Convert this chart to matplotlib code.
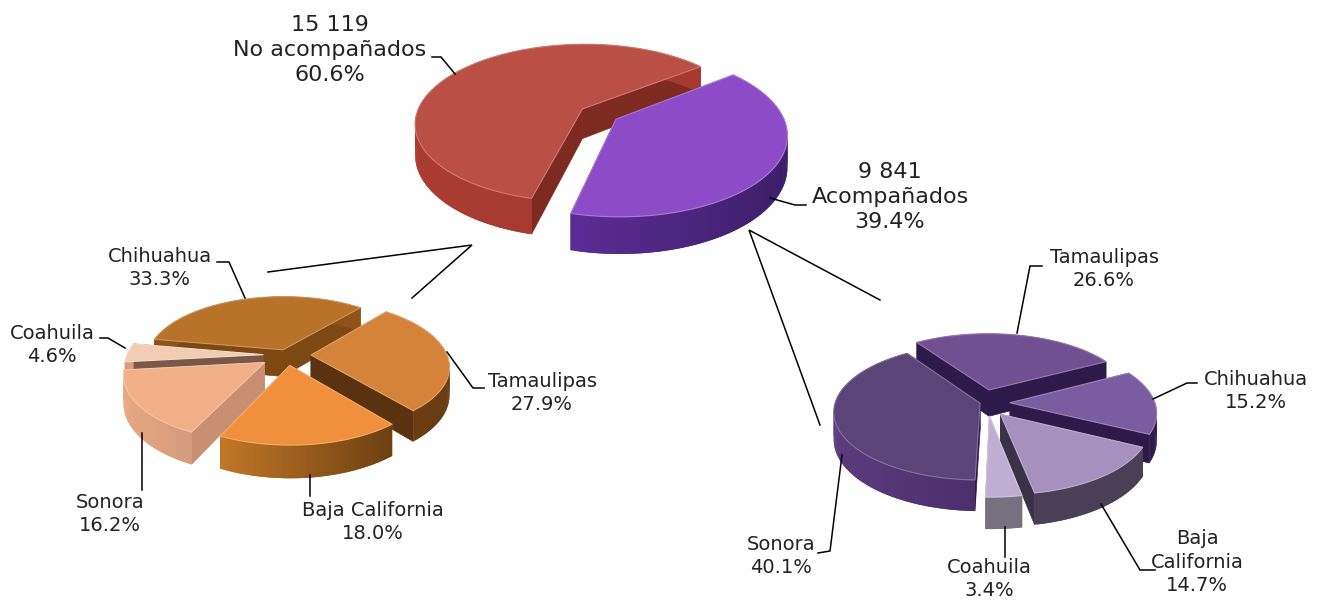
#!/usr/bin/env python3
import numpy as np
import matplotlib
matplotlib.use('Agg')
import matplotlib.pyplot as plt
from matplotlib.colors import to_rgb
from matplotlib.patches import Polygon

plt.rcParams['font.family'] = ['DejaVu Sans']

# ─── Data ───────────────────────────────────────────────────────────────
main_names = ["No acompañados", "Acompañados"]
main_counts = ["15 119", "9 841"]
main_pct = [60.6, 39.4]

left_names = ["Chihuahua", "Coahuila", "Sonora", "Baja California", "Tamaulipas"]
left_pct = [33.3, 4.6, 16.2, 18.0, 27.9]

right_names = ["Sonora", "Coahuila", "Baja\nCalifornia", "Chihuahua", "Tamaulipas"]
right_pct = [40.1, 3.4, 14.7, 15.2, 26.6]

# ─── Styles: top, radial wall, rim wall left, rim wall right ────────────
main_colors = [('#b94f45', '#7f2a20', '#a93b32', '#a63a30'),
               ('#8e4bc8', '#3f2070', '#5c2c96', '#3c1f68')]
left_colors = [('#b8722a', '#7c4814', '#8f5218', '#8f5218'),
               ('#f3cdb3', '#7a5848', '#d8a080', '#d8a080'),
               ('#f1b088', '#c98f72', '#e8a982', '#d39a80'),
               ('#f0903c', '#a86420', '#c27628', '#6b4010'),
               ('#d5823a', '#5a3210', '#6a3c12', '#6a3c12')]
right_colors = [('#5a4478', '#2e1a4a', '#5b3b7d', '#4b2f6c'),
                ('#bfb0d3', '#706a78', '#77717f', '#77717f'),
                ('#a590bf', '#3c3248', '#4a4055', '#4a4055'),
                ('#7a5ca0', '#2e1a4a', '#2e1a4a', '#2e1a4a'),
                ('#705091', '#2e1a4a', '#2e1a4a', '#2e1a4a')]

fig = plt.figure(figsize=(13.24, 6.0), dpi=100)
ax = fig.add_axes([0, 0, 1, 1])
ax.set_xlim(0, 1324)
ax.set_ylim(600, 0)
ax.axis('off')


def draw_pie(pct, colors, start, explode, cx, cy, R, tilt, persp, h, nudge=None):
    """Exploded 3D pie, ccw from start (deg), with simple perspective."""
    spans = np.array(pct) / sum(pct) * 360
    a0s = start + np.concatenate([[0], np.cumsum(spans)[:-1]])
    if nudge is None:
        nudge = [0] * len(pct)
    slices = []
    for a0, sp, d, c, n in zip(a0s, spans, explode, colors, nudge):
        mid = np.radians(a0 + sp / 2)
        ou, ov = d * np.cos(mid) + n, -d * np.sin(mid)
        slices.append((ov - R * 0.5 * np.sin(mid), a0, sp, ou, ov, c))

    def proj(u, v, down=0.0):
        k = 1 / (1 - persp * v / R)
        return cx + u * k, cy + tilt * v * k + down * k

    # de atras hacia adelante
    for _, a0, sp, ou, ov, c in sorted(slices, key=lambda s: s[0]):
        t = np.radians(np.linspace(a0, a0 + sp, max(int(sp), 6)))
        us = ou + R * np.cos(t)
        vs = ov - R * np.sin(t)
        top_x, top_y = proj(us, vs)
        bot_x, bot_y = proj(us, vs, h)
        ax_, ay_ = proj(ou, ov)
        bx_, by_ = proj(ou, ov, h)

        # paredes radiales
        for i in (0, -1):
            ax.add_patch(Polygon([(ax_, ay_), (top_x[i], top_y[i]), (bot_x[i], bot_y[i]), (bx_, by_)],
                                 fc=c[1], ec=c[1], lw=0.5))
        # pared exterior, con degradado; cada tramo pisa al anterior para evitar rayas
        xmin, xmax = top_x.min(), top_x.max()
        c1, c2 = np.array(to_rgb(c[2])), np.array(to_rgb(c[3]))
        for i in range(len(t) - 1):
            j = min(i + 2, len(t) - 1)
            f = (top_x[i] - xmin) / max(xmax - xmin, 1)
            col = c1 + (c2 - c1) * f
            ax.add_patch(Polygon([(top_x[i], top_y[i]), (top_x[j], top_y[j]),
                                  (bot_x[j], bot_y[j]), (bot_x[i], bot_y[i])],
                                 fc=col, ec='none'))
        # cara superior
        pts = np.column_stack([np.r_[ax_, top_x], np.r_[ay_, top_y]])
        edge = np.array(to_rgb(c[0])) * 0.75 + 0.25
        ax.add_patch(Polygon(pts, fc=c[0], ec=edge, lw=0.8, joinstyle='round'))


draw_pie(main_pct, main_colors, 38, [20, 20], 599, 114, 166, 0.47, 0.18, 30)
draw_pie(left_pct, left_colors, 50, [12, 24, 27, 22, 24], 287, 355, 136, 0.465, 0.16, 27)
draw_pie(right_pct, right_colors, 124, [2, 28, 30, 28, 30], 982, 403, 145, 0.46, 0.13, 27,
         nudge=[0, 5, 0, 0, 0])

# ─── Connectors and leader lines ────────────────────────────────────────
paths = [
    [(268, 272), (472, 245), (412, 298)],
    [(820, 425), (749, 230), (880, 300)],
    [(432, 57), (441, 57), (455, 74)],
    [(770, 198), (795, 205), (806, 205)],
    [(217, 262), (229, 262), (245, 298)],
    [(100, 338), (108, 338), (125, 348)],
    [(447, 352), (473, 388), (484, 388)],
    [(310, 475), (310, 496)],
    [(142, 433), (142, 490)],
    [(1017, 333), (1030, 266), (1042, 266)],
    [(1153, 399), (1187, 383), (1197, 383)],
    [(1101, 504), (1140, 570), (1155, 570)],
    [(1005, 527), (1005, 557)],
    [(842, 455), (830, 551), (818, 553)],
]
for p in paths:
    xs, ys = zip(*p)
    ax.plot(xs, ys, color='black', lw=1.1, solid_joinstyle='miter')

# ─── Labels ─────────────────────────────────────────────────────────────
ax.text(330, 50, f"{main_counts[0]}\n{main_names[0]}\n{main_pct[0]}%", ha='center', va='center',
        fontsize=16, linespacing=1.32, color='#222222')
ax.text(890, 197, f"{main_counts[1]}\n{main_names[1]}\n{main_pct[1]}%", ha='center', va='center',
        fontsize=16, linespacing=1.32, color='#222222')

left_pos = [(160, 268), (52, 345), (110, 514), (373, 522), (542, 393)]
for n, v, (x, y) in zip(left_names, left_pct, left_pos):
    ax.text(x, y, f"{n}\n{v}%", ha='center', va='center', fontsize=14, linespacing=1.3, color='#222222')
right_pos = [(781, 556), (989, 579), (1197, 562), (1256, 391), (1104, 269)]
for n, v, (x, y) in zip(right_names, right_pct, right_pos):
    ax.text(x, y, f"{n}\n{v}%", ha='center', va='center', fontsize=14, linespacing=1.3, color='#222222')

plt.savefig("out.png", dpi=100)
